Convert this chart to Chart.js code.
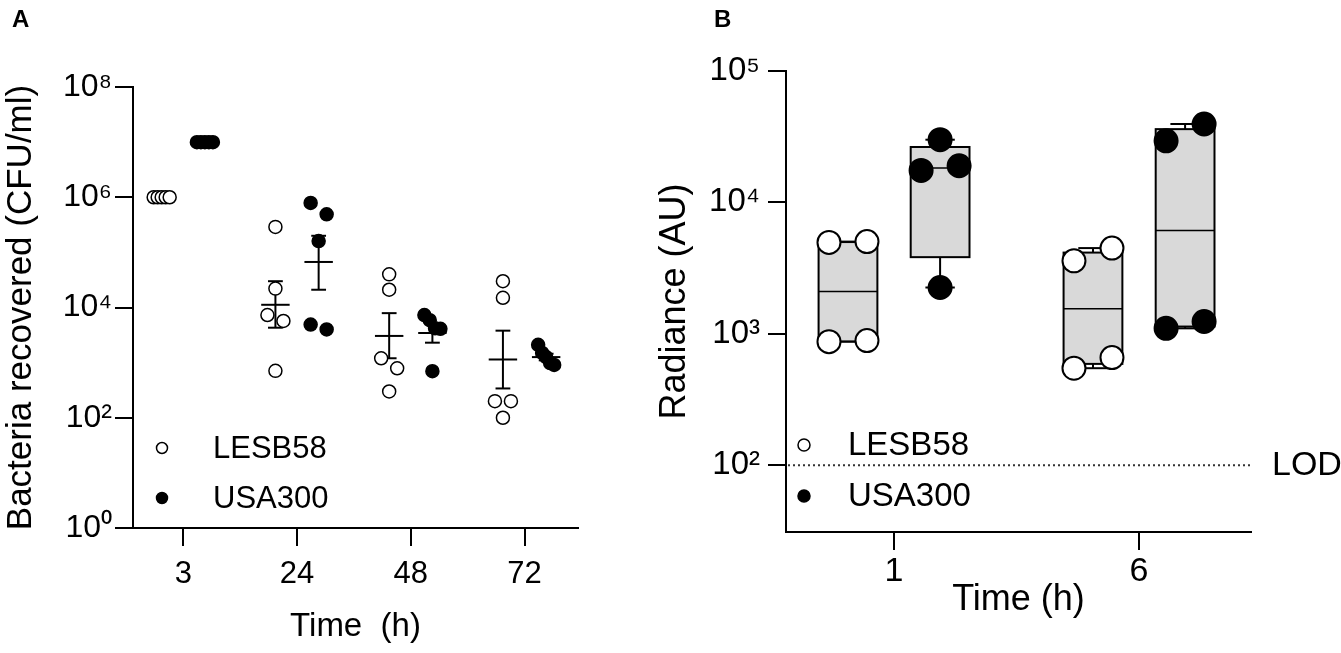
<!DOCTYPE html>
<html>
<head>
<meta charset="utf-8">
<script src="https://cdn.jsdelivr.net/npm/chart.js"></script>
<style>
  body { margin: 0; background: #fff; }
  #page { position: relative; width: 1341px; height: 653px; overflow: hidden; background: #fff; }
  .letter { position: absolute; top: 5px; font: bold 24px "Liberation Sans", Arial, sans-serif; color: #000; }
  #chartA { position: absolute; left: 0; top: 0; }
  #chartB { position: absolute; left: 650px; top: 0; }
</style>
</head>
<body>
<div id="page">
  <canvas id="chartA" width="650" height="653"></canvas>
  <canvas id="chartB" width="691" height="653"></canvas>
  <div class="letter" style="left:12px">A</div>
  <div class="letter" style="left:714px">B</div>
</div>
<script>
// ---- panel A : bacteria recovered (5 mice per strain and time point)
const timesA = ['3', '24', '48', '72'];
const lesbA = [
    [1e6, 1e6, 1e6, 1e6, 1e6],
    [2.9e5, 2.2e4, 7.3e3, 5.7e3, 710],
    [4.0e4, 2.1e4, 1.2e3, 790, 300],
    [3.0e4, 1.5e4, 200, 200, 100]
];
const usaA = [
    [1e7, 1e7, 1e7, 1e7, 1e7],
    [7.9e5, 4.9e5, 1.6e5, 4.9e3, 4.0e3],
    [7.3e3, 5.9e3, 4.2e3, 4.1e3, 700],
    [2.1e3, 1.5e3, 1.26e3, 980, 910]
];
// mean and error limits as drawn
const lesbMean = [1e6, 1.12e4, 3.05e3, 1.14e3];
const lesbLow = [1e6, 4.3e3, 1.2e3, 340];
const lesbHigh = [1e6, 3.0e4, 7.9e3, 3.8e3];
const usaMean = [1e7, 6.7e4, 3.45e3, 1.26e3];
const usaLow = [1e7, 2.1e4, 2.3e3, 1.1e3];
const usaHigh = [1e7, 2.0e5, 5.2e3, 1.45e3];
const ticksA = [1, 1e2, 1e4, 1e6, 1e8];

// ---- panel B : radiance (4 mice per strain and time point)
const timesB = ['1', '6'];
const lesbB = [[4960, 5030, 871, 887], [3590, 4490, 547, 659]];
const usaB = [[30000, 19000, 17500, 2250], [29400, 39500, 1100, 1240]];
const lesbMinB = [871, 547];
const lesbQ1B = [875, 590];
const lesbMedB = [2096, 1550];
const lesbQ3B = [4990, 4150];
const lesbMaxB = [5030, 4490];
const usaMinB = [2250, 1100];
const usaQ1B = [3830, 1135];
const usaMedB = [18240, 6100];
const usaQ3B = [26400, 36100];
const usaMaxB = [30000, 39500];
const ticksB = [1e2, 1e3, 1e4, 1e5];
const lodB = 100;

const FONT = '"Liberation Sans", Arial, sans-serif';
Chart.defaults.font.family = FONT;
Chart.defaults.color = '#000';

const SUP = { '0': '⁰', '1': '¹', '2': '²', '3': '³', '4': '⁴', '5': '⁵', '6': '⁶', '7': '⁷', '8': '⁸', '9': '⁹' };
function powLabel(v) {
    return '10' + String(Math.round(Math.log10(v))).split('').map(c => SUP[c]).join('');
}

function points(groups, offset) {
    const out = [];
    groups.forEach((vals, t) => vals.forEach(v => out.push({ x: t + offset, y: v, g: t, base: t + offset })));
    return out;
}

// spread points that touch vertically into centred rows (like a dot plot)
function applySwarm(chart, diam, maxHalf, lowLeft) {
    const x = chart.scales.x, y = chart.scales.y;
    const unit = x.getPixelForValue(1) - x.getPixelForValue(0);
    chart.data.datasets.forEach(ds => {
        const groups = {};
        ds.data.forEach(p => (groups[p.g] = groups[p.g] || []).push(p));
        Object.values(groups).forEach(list => {
            const sorted = list.slice().sort((a, b) => y.getPixelForValue(a.y) - y.getPixelForValue(b.y));
            let k = 0;
            while (k < sorted.length) {
                let j = k + 1;
                while (j < sorted.length && y.getPixelForValue(sorted[j].y) - y.getPixelForValue(sorted[j - 1].y) < diam) j++;
                const row = sorted.slice(k, j);
                if (lowLeft) row.reverse();
                const n = row.length;
                row.forEach((p, i) => {
                    const off = n > 1 ? -maxHalf + i * 2 * maxHalf / (n - 1) : 0;
                    p.x = p.base + off / unit;
                });
                k = j;
            }
        });
    });
    chart.update('none');
}

function hLine(ctx, x1, x2, yy) { ctx.beginPath(); ctx.moveTo(x1, yy); ctx.lineTo(x2, yy); ctx.stroke(); }
function vLine(ctx, xx, y1, y2) { ctx.beginPath(); ctx.moveTo(xx, y1); ctx.lineTo(xx, y2); ctx.stroke(); }

const meanBars = {
    id: 'meanBars',
    beforeDatasetsDraw(chart, args, o) {
        const { ctx, scales: { x, y } } = chart;
        const unit = x.getPixelForValue(1) - x.getPixelForValue(0);
        ctx.save();
        ctx.strokeStyle = '#000';
        ctx.lineWidth = 2;
        o.groups.forEach(g => {
            g.mean.forEach((m, t) => {
                const cx = x.getPixelForValue(t + g.offset);
                vLine(ctx, cx, y.getPixelForValue(g.low[t]), y.getPixelForValue(g.high[t]));
                hLine(ctx, cx - o.cap * unit, cx + o.cap * unit, y.getPixelForValue(g.low[t]));
                hLine(ctx, cx - o.cap * unit, cx + o.cap * unit, y.getPixelForValue(g.high[t]));
                hLine(ctx, cx - o.mean * unit, cx + o.mean * unit, y.getPixelForValue(m));
            });
        });
        ctx.restore();
    }
};

const boxes = {
    id: 'boxes',
    beforeDatasetsDraw(chart, args, o) {
        const { ctx, scales: { x, y } } = chart;
        const unit = x.getPixelForValue(1) - x.getPixelForValue(0);
        const half = o.width * unit / 2;
        const cap = o.cap * unit / 2;
        ctx.save();
        ctx.strokeStyle = '#000';
        ctx.lineWidth = 2;
        o.groups.forEach(g => {
            g.med.forEach((m, t) => {
                const cx = x.getPixelForValue(t + g.offset);
                const yMin = y.getPixelForValue(g.min[t]), yMax = y.getPixelForValue(g.max[t]);
                const y1 = y.getPixelForValue(g.q1[t]), y3 = y.getPixelForValue(g.q3[t]);
                vLine(ctx, cx, y3, yMax);
                vLine(ctx, cx, y1, yMin);
                hLine(ctx, cx - cap, cx + cap, yMax);
                hLine(ctx, cx - cap, cx + cap, yMin);
                ctx.fillStyle = '#d9d9d9';
                ctx.fillRect(cx - half, y3, 2 * half, y1 - y3);
                ctx.strokeRect(cx - half, y3, 2 * half, y1 - y3);
                ctx.lineWidth = 1.5;
                hLine(ctx, cx - half, cx + half, y.getPixelForValue(m));
                ctx.lineWidth = 2;
            });
        });
        ctx.restore();
    }
};

const lodLine = {
    id: 'lodLine',
    beforeDatasetsDraw(chart, args, o) {
        const { ctx, chartArea, scales: { y } } = chart;
        const yy = y.getPixelForValue(o.value);
        ctx.save();
        ctx.strokeStyle = '#333';
        ctx.lineWidth = 2;
        ctx.setLineDash([2, 3]);
        hLine(ctx, chartArea.left + 2, chartArea.right, yy);
        ctx.setLineDash([]);
        ctx.font = o.size + 'px ' + FONT;
        ctx.fillStyle = '#000';
        ctx.textBaseline = 'middle';
        ctx.fillText(o.text, chartArea.right + o.gap, yy);
        ctx.restore();
    }
};

const insideLegend = {
    id: 'insideLegend',
    afterDraw(chart, args, o) {
        const { ctx, chartArea } = chart;
        ctx.save();
        ctx.font = o.size + 'px ' + FONT;
        ctx.textBaseline = 'middle';
        chart.data.datasets.forEach((ds, i) => {
            const cy = chartArea.bottom - o.bottom + i * o.gap;
            ctx.beginPath();
            ctx.arc(chartArea.left + o.dot, cy, o.r, 0, Math.PI * 2);
            ctx.fillStyle = ds.backgroundColor;
            ctx.fill();
            ctx.lineWidth = 1.5;
            ctx.strokeStyle = '#000';
            ctx.stroke();
            ctx.fillStyle = '#000';
            ctx.fillText(ds.label, chartArea.left + o.text, cy + 1);
        });
        ctx.restore();
    }
};

function axisX(labels, min, max, height, tickSize, pad, title, titleSize, titlePad) {
    return {
        type: 'linear', min: min, max: max,
        afterBuildTicks: s => { s.ticks = labels.map((_, i) => ({ value: i })); },
        afterFit: s => { s.height = height; },
        ticks: { callback: v => labels[v], font: { size: tickSize }, padding: pad, autoSkip: false, maxRotation: 0 },
        grid: { drawOnChartArea: false, tickLength: 18, color: '#000', lineWidth: 2 },
        border: { color: '#000', width: 2 },
        title: { display: true, text: title, font: { size: titleSize }, padding: { top: 0, bottom: titlePad } }
    };
}

function axisY(tickVals, min, max, width, tickSize, pad, title, titleSize, titlePad) {
    return {
        type: 'logarithmic', min: min, max: max,
        afterBuildTicks: s => { s.ticks = tickVals.map(v => ({ value: v })); },
        afterFit: s => { s.width = width; },
        ticks: { callback: v => powLabel(v), font: { size: tickSize }, padding: pad, autoSkip: false },
        grid: { drawOnChartArea: false, tickLength: 18, color: '#000', lineWidth: 2 },
        border: { color: '#000', width: 2 },
        title: { display: true, text: title, font: { size: titleSize }, padding: { top: titlePad, bottom: 0 } }
    };
}

const chartA = new Chart(document.getElementById('chartA'), {
    type: 'scatter',
    data: {
        datasets: [
            { label: 'LESB58', data: points(lesbA, -0.19), backgroundColor: '#fff', borderColor: '#000', pointRadius: 6.5, pointBorderWidth: 1.5 },
            { label: 'USA300', data: points(usaA, 0.19), backgroundColor: '#000', borderColor: '#000', pointRadius: 6.5, pointBorderWidth: 1.5 }
        ]
    },
    options: {
        responsive: false, animation: false, events: [], devicePixelRatio: 1,
        layout: { padding: { top: 87, right: 72, left: 0, bottom: 0 } },
        plugins: {
            legend: { display: false }, tooltip: { enabled: false },
            meanBars: {
                cap: 0.065, mean: 0.125,
                groups: [
                    { offset: -0.19, mean: lesbMean, low: lesbLow, high: lesbHigh },
                    { offset: 0.19, mean: usaMean, low: usaLow, high: usaHigh }
                ]
            },
            insideLegend: { dot: 29, text: 80, bottom: 80, gap: 50, r: 5.5, size: 31 }
        },
        scales: {
            x: axisX(timesA, -0.442, 3.47, 125, 31, 10, 'Time  (h)', 33, 6),
            y: axisY(ticksA, 1, 1e8, 133, 32, 3, 'Bacteria recovered (CFU/ml)', 35, 0)
        }
    },
    plugins: [meanBars, insideLegend]
});
applySwarm(chartA, 13, 8, false);

const chartB = new Chart(document.getElementById('chartB'), {
    type: 'scatter',
    data: {
        datasets: [
            { label: 'LESB58', data: points(lesbB, -0.188), backgroundColor: '#fff', borderColor: '#000', pointRadius: 11.5, pointBorderWidth: 2 },
            { label: 'USA300', data: points(usaB, 0.188), backgroundColor: '#000', borderColor: '#000', pointRadius: 11.5, pointBorderWidth: 2 }
        ]
    },
    options: {
        responsive: false, animation: false, events: [], devicePixelRatio: 1,
        layout: { padding: { top: 71, right: 90, left: 0, bottom: 0 } },
        plugins: {
            legend: { display: false }, tooltip: { enabled: false },
            boxes: {
                width: 0.24, cap: 0.12,
                groups: [
                    { offset: -0.188, min: lesbMinB, q1: lesbQ1B, med: lesbMedB, q3: lesbQ3B, max: lesbMaxB },
                    { offset: 0.188, min: usaMinB, q1: usaQ1B, med: usaMedB, q3: usaQ3B, max: usaMaxB }
                ]
            },
            lodLine: { value: lodB, text: 'LOD', size: 34, gap: 21 },
            insideLegend: { dot: 18, text: 62, bottom: 87, gap: 51, r: 6, size: 33 }
        },
        scales: {
            x: axisX(timesB, -0.441, 1.457, 121, 34, 1, 'Time (h)', 36, 31),
            y: axisY(ticksB, 31, 1e5, 136, 33, 8, 'Radiance (AU)', 36, 3)
        }
    },
    plugins: [lodLine, boxes, insideLegend]
});
applySwarm(chartB, 23, 19, true);
</script>
</body>
</html>
